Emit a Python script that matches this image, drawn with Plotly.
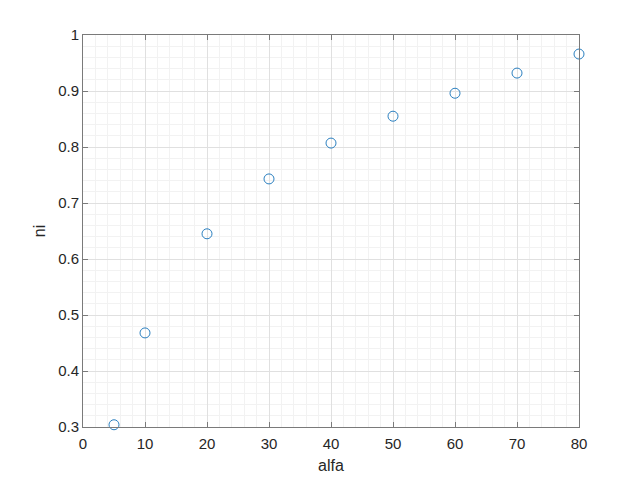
import plotly.graph_objects as go

alfa = [5, 10, 20, 30, 40, 50, 60, 70, 80]
ni = [0.304, 0.468, 0.645, 0.743, 0.807, 0.855, 0.896, 0.932, 0.966]
x_ticks = [0, 10, 20, 30, 40, 50, 60, 70, 80]
y_ticks = [0.3, 0.4, 0.5, 0.6, 0.7, 0.8, 0.9, 1.0]
y_ticklabels = ["0.3", "0.4", "0.5", "0.6", "0.7", "0.8", "0.9", "1"]

fig = go.Figure()
fig.add_trace(go.Scatter(
    x=alfa, y=ni, mode="markers",
    marker=dict(symbol="circle-open", size=10, color="#2a7fc0", line=dict(width=1)),
    cliponaxis=False, showlegend=False,
))

axis_common = dict(
    showline=True, linecolor="#7a7a7a", linewidth=1, mirror="ticks",
    ticks="inside", ticklen=5, tickcolor="#7a7a7a",
    showgrid=True, gridcolor="#e0e0e0", gridwidth=1,
    zeroline=False,
    tickfont=dict(family="Liberation Sans, Arial", size=15, color="#262626"),
)

fig.update_xaxes(
    range=[0, 80], tickvals=x_ticks, ticklabelstandoff=3,
    minor=dict(dtick=2, showgrid=True, gridcolor="#f2f2f2", ticks=""),
    title=dict(text="alfa", font=dict(family="Liberation Sans, Arial", size=16, color="#262626"), standoff=8),
    **axis_common,
)
fig.update_yaxes(
    range=[0.3, 1.0], tickvals=y_ticks, ticktext=y_ticklabels,
    minor=dict(dtick=0.02, showgrid=True, gridcolor="#f2f2f2", ticks=""),
    title=dict(text="ni", font=dict(family="Liberation Sans, Arial", size=16, color="#262626"), standoff=8),
    **axis_common,
)

fig.update_layout(
    width=640, height=480,
    margin=dict(l=75, r=69, t=27, b=61),
    plot_bgcolor="white", paper_bgcolor="white",
)

fig.write_html("out.html")
